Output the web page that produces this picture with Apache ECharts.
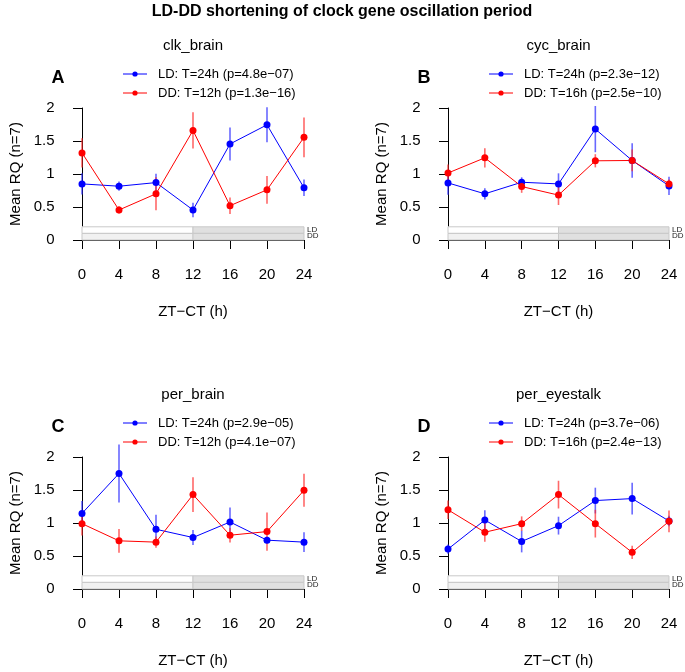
<!DOCTYPE html>
<html><head><meta charset="utf-8">
<script src="https://cdn.jsdelivr.net/npm/echarts@6/dist/echarts.min.js"></script>
<style>html,body{margin:0;padding:0;background:#fff}#c{width:685px;height:672px}</style>
</head><body><div id="c"></div>
<script>
const hours = [0, 4, 8, 12, 16, 20, 24];
const xTicks = [0, 4, 8, 12, 16, 20, 24];
const yTicks = [0, 0.5, 1, 1.5, 2];

const panelTitles = ['clk_brain', 'cyc_brain', 'per_brain', 'per_eyestalk'];
const panelLetters = ['A', 'B', 'C', 'D'];
const ldLegend = ['LD: T=24h (p=4.8e\u221207)', 'LD: T=24h (p=2.3e\u221212)', 'LD: T=24h (p=2.9e\u221205)', 'LD: T=24h (p=3.7e\u221206)'];
const ddLegend = ['DD: T=12h (p=1.3e\u221216)', 'DD: T=16h (p=2.5e\u221210)', 'DD: T=12h (p=4.1e\u221207)', 'DD: T=16h (p=2.4e\u221213)'];

const clkLD   = [0.85, 0.815, 0.87, 0.455, 1.455, 1.745, 0.79];
const clkLDse = [0.16, 0.07, 0.135, 0.11, 0.25, 0.265, 0.125];
const clkDD   = [1.32, 0.455, 0.70, 1.66, 0.52, 0.76, 1.555];
const clkDDse = [0.22, 0.055, 0.25, 0.275, 0.125, 0.21, 0.30];

const cycLD   = [0.865, 0.70, 0.875, 0.85, 1.68, 1.205, 0.82];
const cycLDse = [0.18, 0.085, 0.075, 0.16, 0.35, 0.26, 0.14];
const cycDD   = [1.015, 1.245, 0.81, 0.68, 1.20, 1.205, 0.85];
const cycDDse = [0.13, 0.145, 0.095, 0.15, 0.10, 0.165, 0.065];

const perLD   = [1.145, 1.75, 0.905, 0.78, 1.015, 0.74, 0.71];
const perLDse = [0.19, 0.44, 0.22, 0.115, 0.22, 0.05, 0.15];
const perDD   = [0.99, 0.73, 0.71, 1.43, 0.815, 0.87, 1.495];
const perDDse = [0.18, 0.18, 0.085, 0.265, 0.11, 0.29, 0.25];

const eyeLD   = [0.605, 1.045, 0.72, 0.96, 1.34, 1.37, 1.03];
const eyeLDse = [0.07, 0.15, 0.165, 0.135, 0.195, 0.24, 0.08];
const eyeDD   = [1.20, 0.86, 0.99, 1.43, 0.99, 0.555, 1.025];
const eyeDDse = [0.14, 0.145, 0.11, 0.21, 0.21, 0.10, 0.165];

// light/dark bar: [x0, x1, y0, y1, shade]
const lightBars = [
  [0, 12, 0.1, 0.2, 0], [12, 24, 0.1, 0.2, 2],
  [0, 12, 0.0, 0.1, 1], [12, 24, 0.0, 0.1, 2]
];

const panelData = [
  [clkLD, clkLDse, clkDD, clkDDse],
  [cycLD, cycLDse, cycDD, cycDDse],
  [perLD, perLDse, perDD, perDDse],
  [eyeLD, eyeLDse, eyeDD, eyeDDse]
];

const FONT = 'Liberation Sans, Arial, Helvetica, sans-serif';
const grids = [
  {left: 82, top: 108, width: 222, height: 132},
  {left: 448, top: 108, width: 221, height: 132},
  {left: 82, top: 457, width: 222, height: 132},
  {left: 448, top: 457, width: 221, height: 132}
];
const shades = ['#ffffff', '#f1f1f1', '#e0e0e0'];

const option = {
  animation: false,
  backgroundColor: '#fff',
  textStyle: {fontFamily: FONT},
  grid: grids.map(g => Object.assign({containLabel: false}, g)),
  xAxis: grids.map((g, i) => ({
    type: 'value', gridIndex: i, min: 0, max: 24, interval: 4,
    offset: 5.5,
    axisLine: {show: true, lineStyle: {color: '#000', width: 1}},
    axisTick: {show: true, inside: false, length: 9, lineStyle: {color: '#000'}},
    axisLabel: {show: true, margin: 22, color: '#000', fontSize: 15, fontFamily: FONT},
    splitLine: {show: false}
  })),
  yAxis: grids.map((g, i) => ({
    type: 'value', gridIndex: i, min: 0, max: 2, interval: 0.5,
    offset: 9.5,
    axisLine: {show: true, lineStyle: {color: '#000', width: 1}},
    axisTick: {show: true, inside: false, length: 9, lineStyle: {color: '#000'}},
    axisLabel: {show: true, margin: 18, color: '#000', fontSize: 15, fontFamily: FONT,
      formatter: v => String(v)},
    splitLine: {show: false}
  })),
  series: [],
  graphic: []
};

function errSeries(i, mean, se, color) {
  return {
    type: 'custom', xAxisIndex: i, yAxisIndex: i, z: 2, clip: false,
    data: hours.map((h, k) => [h, mean[k], se[k]]),
    encode: {x: 0, y: 1},
    renderItem: (params, api) => {
      const x = api.value(0), m = api.value(1), e = api.value(2);
      const p1 = api.coord([x, m - e]), p2 = api.coord([x, m + e]);
      return {type: 'line', shape: {x1: p1[0], y1: p1[1], x2: p2[0], y2: p2[1]},
        style: {stroke: color, lineWidth: 1.6}};
    }
  };
}

panelData.forEach((d, i) => {
  option.series.push({
    type: 'custom', xAxisIndex: i, yAxisIndex: i, z: 1, clip: false,
    data: lightBars, encode: {x: [0, 1], y: [2, 3]},
    renderItem: (params, api) => {
      const a = api.coord([api.value(0), api.value(3)]);
      const b = api.coord([api.value(1), api.value(2)]);
      return {type: 'rect', shape: {x: a[0], y: a[1], width: b[0] - a[0], height: b[1] - a[1]},
        style: {fill: shades[api.value(4)], stroke: '#c9c9c9', lineWidth: 1}};
    }
  });
  option.series.push(errSeries(i, d[0], d[1], 'rgba(40,40,255,0.7)'));
  option.series.push(errSeries(i, d[2], d[3], 'rgba(255,40,40,0.7)'));
  [[d[0], '#0000ff'], [d[2], '#ff0000']].forEach(([vals, col]) => {
    option.series.push({
      type: 'line', xAxisIndex: i, yAxisIndex: i, z: 3, clip: false,
      data: hours.map((h, k) => [h, vals[k]]),
      symbol: 'circle', symbolSize: 7, showSymbol: true,
      lineStyle: {color: col, width: 1}, itemStyle: {color: col}
    });
  });

  const g = grids[i];
  const cx = g.left + g.width / 2;
  const dy = i < 2 ? 0 : 349;
  const G = option.graphic;
  G.push({type: 'text', x: cx, y: 46 + dy,
    style: {text: panelTitles[i], font: '15px ' + FONT, fill: '#000', align: 'center', verticalAlign: 'middle'}});
  G.push({type: 'text', x: g.left - 24, y: 78 + dy,
    style: {text: panelLetters[i], font: 'bold 18px ' + FONT, fill: '#000', align: 'center', verticalAlign: 'middle'}});
  const lx = g.left + 41;
  [[ldLegend[i], '#0000ff', 74], [ddLegend[i], '#ff0000', 93]].forEach(([t, col, yy]) => {
    G.push({type: 'line', shape: {x1: lx, y1: yy + dy, x2: lx + 24, y2: yy + dy}, style: {stroke: col, lineWidth: 1}});
    G.push({type: 'circle', shape: {cx: lx + 12, cy: yy + dy, r: 2.6}, style: {fill: col}});
    G.push({type: 'text', x: lx + 35, y: yy + dy,
      style: {text: t, font: '13px ' + FONT, fill: '#000', align: 'left', verticalAlign: 'middle'}});
  });
  // axis titles
  G.push({type: 'text', x: cx, y: g.top + g.height + 72,
    style: {text: 'ZT\u2212CT (h)', font: '15px ' + FONT, fill: '#000', align: 'center', verticalAlign: 'middle'}});
  G.push({type: 'text', x: g.left - 66, y: g.top + g.height / 2, rotation: Math.PI / 2,
    style: {text: 'Mean RQ (n=7)', font: '15px ' + FONT, fill: '#000', align: 'center', verticalAlign: 'middle'}});
  // LD / DD tiny labels
  G.push({type: 'text', x: g.left + g.width + 3, y: g.top + g.height - 10.5,
    style: {text: 'LD', font: '8px ' + FONT, fill: '#222', align: 'left', verticalAlign: 'middle'}});
  G.push({type: 'text', x: g.left + g.width + 3, y: g.top + g.height - 3.8,
    style: {text: 'DD', font: '8px ' + FONT, fill: '#222', align: 'left', verticalAlign: 'middle'}});
});

option.graphic.push({type: 'text', x: 342, y: 12,
  style: {text: 'LD-DD shortening of clock gene oscillation period', font: 'bold 16px ' + FONT,
    fill: '#000', align: 'center', verticalAlign: 'middle'}});

const chart = echarts.init(document.getElementById('c'), null, {renderer: 'canvas'});
chart.setOption(option);
</script></body></html>
